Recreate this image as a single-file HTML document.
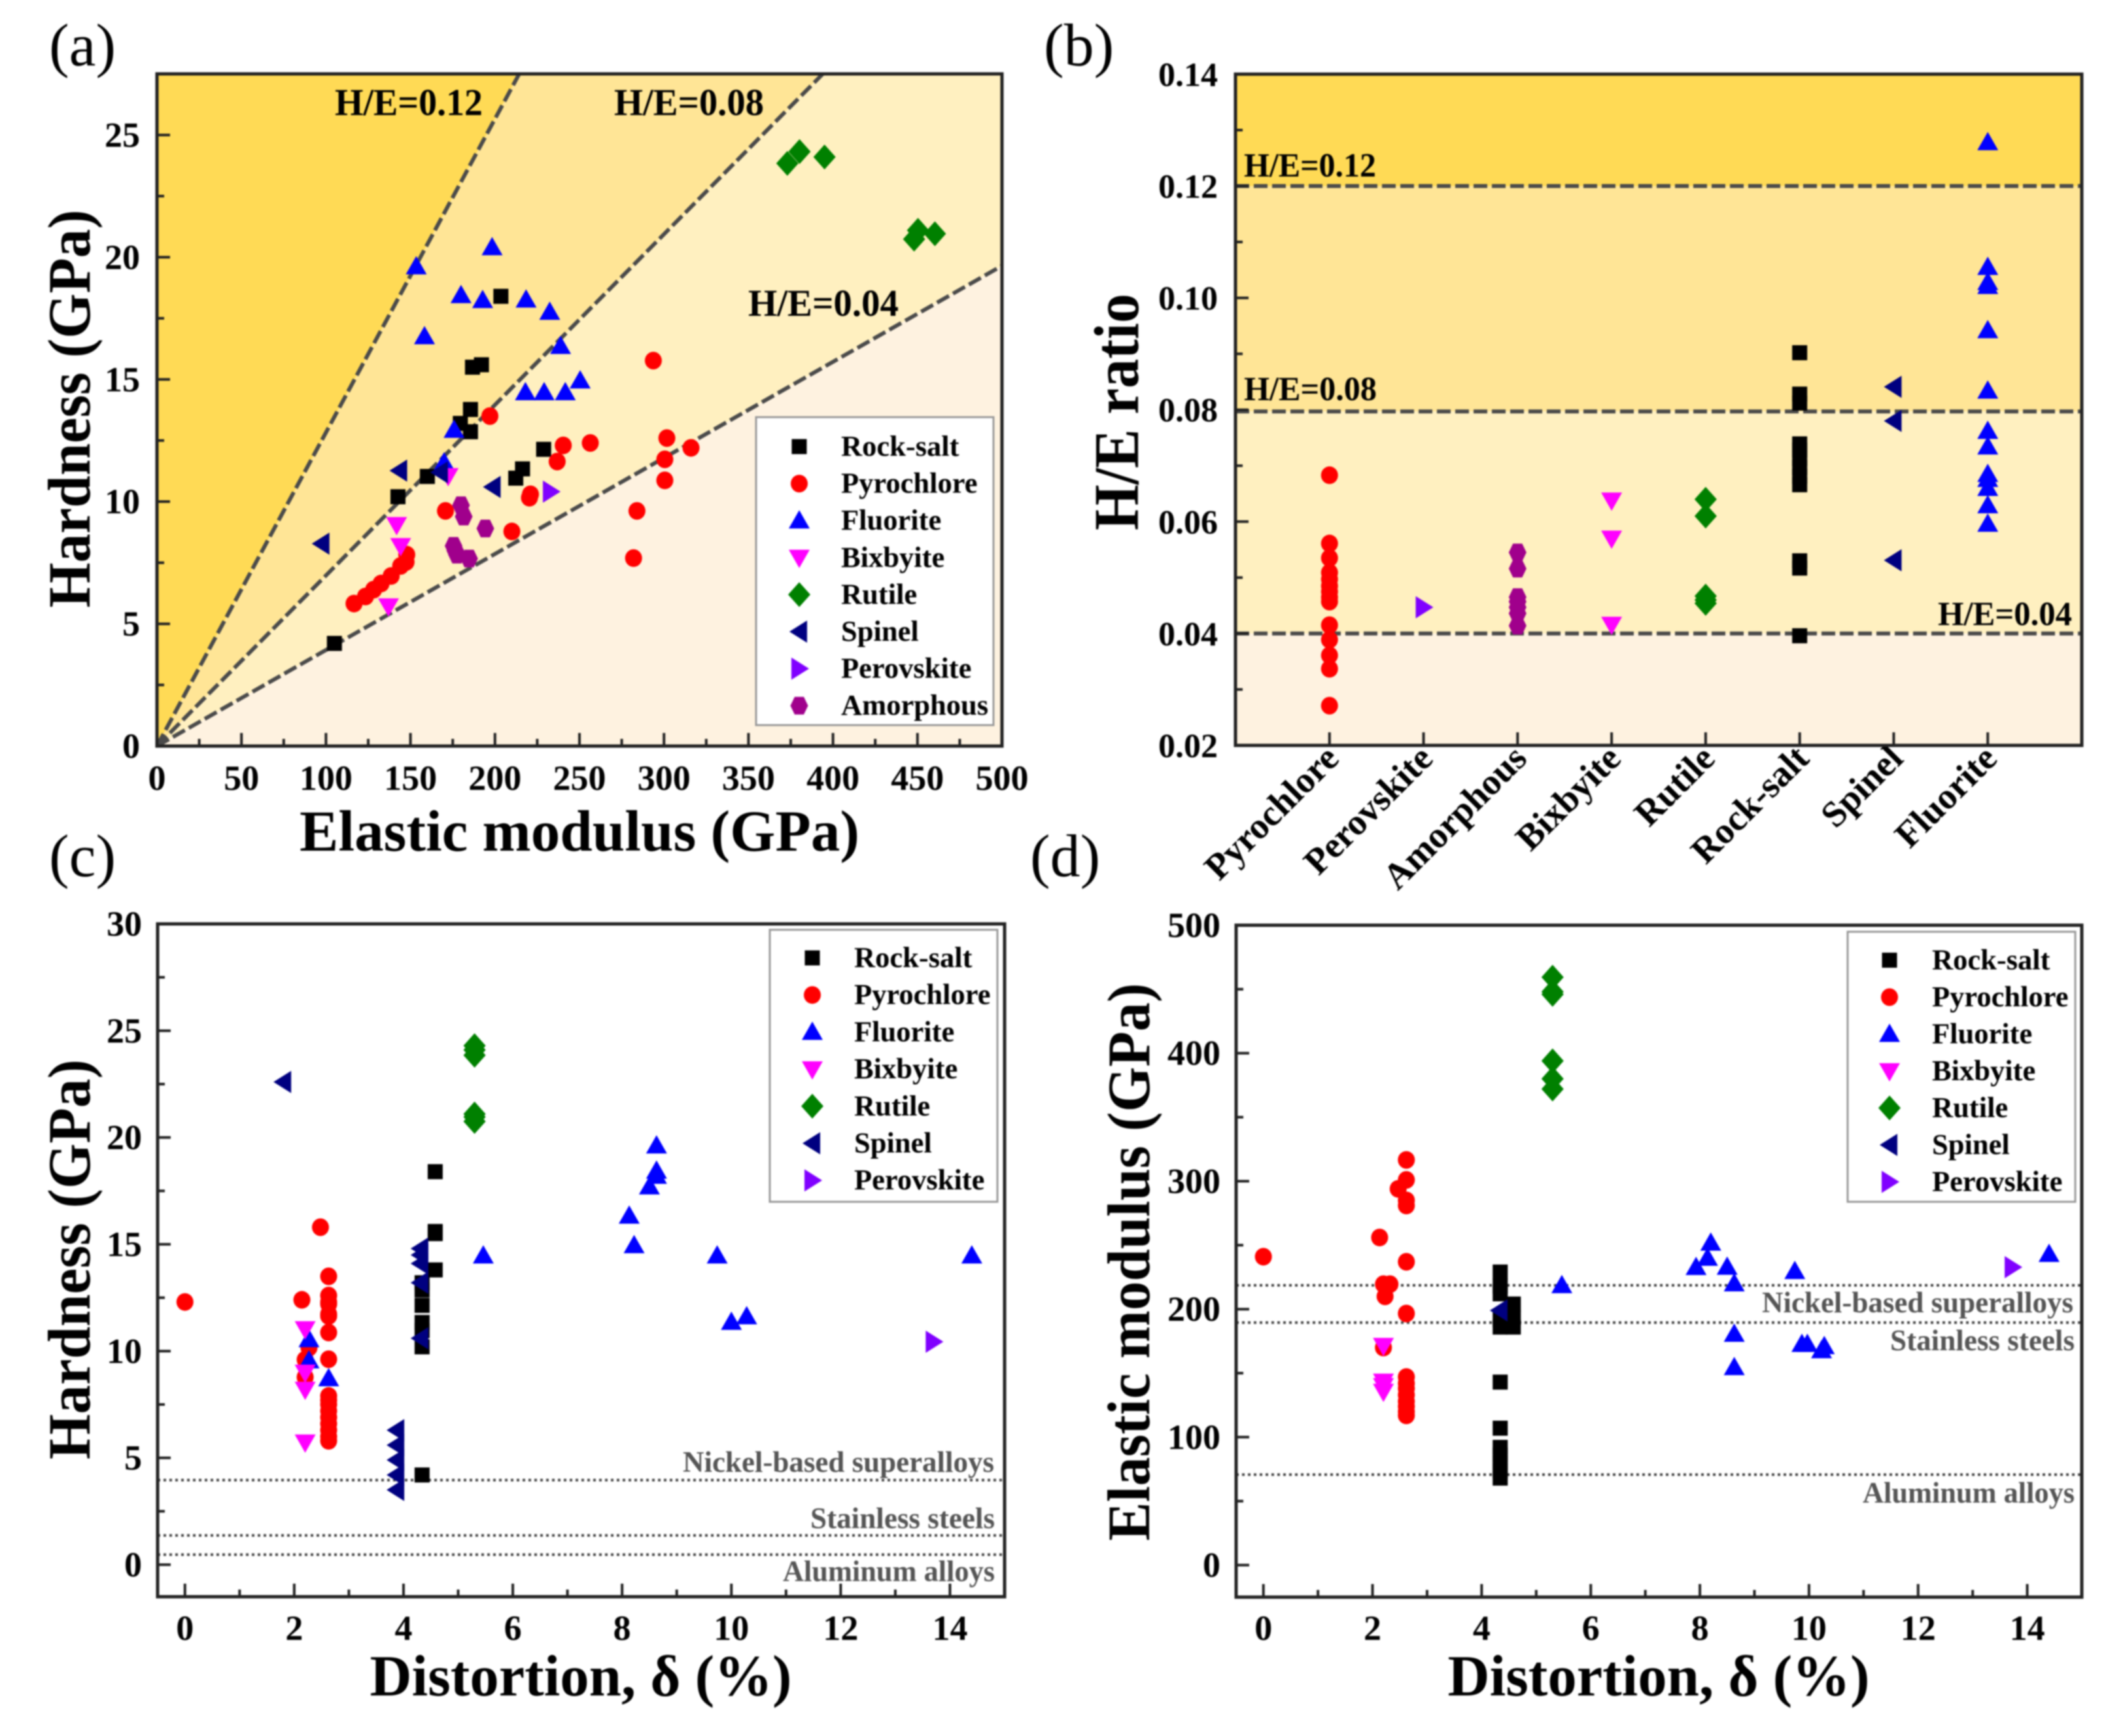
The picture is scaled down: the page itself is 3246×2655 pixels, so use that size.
<!DOCTYPE html>
<html lang="en">
<head>
<meta charset="utf-8">
<title>Hardness, modulus and distortion charts</title>
<style>
html,body{margin:0;padding:0;background:#fff;width:3246px;height:2655px;overflow:hidden}
svg{display:block;font-family:"Liberation Serif","DejaVu Serif",serif}
</style>
</head>
<body>
<svg id="figure" xmlns="http://www.w3.org/2000/svg" width="3246" height="2655" viewBox="0 0 3246 2655" style="filter:blur(1.1px)">
  <rect width="3246" height="2655" fill="#fff"/>
  <text x="75" y="100" font-size="92">(a)</text>
  <text x="1596" y="100" font-size="92">(b)</text>
  <text x="75" y="1340" font-size="92">(c)</text>
  <text x="1575" y="1340" font-size="92">(d)</text>
</svg>
<script>
/* ---------- Panel (a): elastic modulus (x) vs hardness (y) ---------- */
const aRockSaltE = [105,142.6,160,179.5,185.5,185.5,186.7,192,203.5,228.8,212.3,216.3];
const aRockSaltH = [4.2,10.2,11.03,13.2,13.77,12.86,15.5,15.6,18.4,12.14,10.96,11.34];
const aPyrochloreE = [116.6,123.4,128.2,132.6,138.6,144.2,147.4,147.8,170.7,197,210,220.4,221,236.8,240.4,256.4,293.7,284,282,300.5,300.5,301.7,316];
const aPyrochloreH = [5.83,6.12,6.4,6.65,6.96,7.37,7.53,7.83,9.62,13.5,8.78,10.16,10.3,11.64,12.3,12.4,15.77,9.62,7.69,10.87,11.73,12.6,12.2];
const aFluoriteE = [153.4,198.3,158.3,179.9,192.7,218.4,232.4,238.8,250.4,218,229.1,241.6,175.8,169.9];
const aFluoriteH = [19.62,20.4,16.76,18.44,18.24,18.26,17.76,16.36,14.95,14.47,14.47,14.47,12.93,11.6];
const aBixbyiteE = [172.3,141.8,144.2,137];
const aBixbyiteH = [11.05,9.05,8.19,5.72];
const aRutileE = [373,380.2,395,448,450.3,460.3];
const aRutileH = [23.84,24.32,24.1,20.74,21.1,20.96];
const aSpinelE = [97.4,143.4,167.5,198.7];
const aSpinelH = [8.28,11.27,11.2,10.6];
const aPerovskiteE = [233];
const aPerovskiteH = [10.41];
const aAmorphousE = [179.9,181.5,194.3,175.5,176.5,177.5,184.7];
const aAmorphousH = [9.85,9.39,8.9,8.19,8.0,7.83,7.67];
const aRatioLineSlopes = [0.1283,0.0698,0.0393];
const aXTicks = [0,50,100,150,200,250,300,350,400,450,500];
const aYTicks = [0,5,10,15,20,25];

/* ---------- Panel (b): H/E ratio by crystal structure ---------- */
const bCategories = ['Pyrochlore','Perovskite','Amorphous','Bixbyite','Rutile','Rock-salt','Spinel','Fluorite'];
const bPyrochlore = [.0683,.0561,.0535,.0509,.0497,.0485,.0475,.0465,.0457,.0415,.0389,.0361,.0337,.0271];
const bPerovskite = [.0447];
const bAmorphous = [.0545,.0516,.0465,.0457,.0447,.0436,.0414];
const bBixbyite = [.0638,.057,.0416];
const bRutile = [.064,.061,.0467,.046,.0454];
const bRockSalt = [.0902,.0828,.0812,.0739,.0728,.0713,.0697,.0681,.0666,.053,.0517,.0396];
const bSpinel = [.0841,.078,.0531];
const bFluorite = [.1278,.1055,.1028,.1021,.0942,.0834,.0762,.0734,.0685,.0676,.066,.0629,.0596];
const bRatioLevels = [0.12,0.0797,0.04];
const bYTicks = [0.02,0.04,0.06,0.08,0.10,0.12,0.14];

/* ---------- Panel (c): distortion (x) vs hardness (y) ---------- */
const cRockSaltD = [4.58,4.58,4.58,4.58,4.34,4.34,4.34,4.34,4.34,4.34,4.34];
const cRockSaltH = [18.4,15.6,15.5,13.8,13.2,12.86,12.14,11.34,10.96,10.2,4.2];
const cPyrochloreD = [0,2.14,2.48,2.63,2.63,2.63,2.63,2.63,2.63,2.63,2.63,2.27,2.2,2.2,2.63,2.63,2.63,2.63,2.63,2.63,2.63,2.63,2.63];
const cPyrochloreH = [12.3,12.4,15.8,13.5,12.6,12.3,12.2,11.73,11.64,10.87,9.62,10.16,9.6,8.78,7.9,7.7,7.5,7.2,6.9,6.6,6.3,6.0,5.8];
const cFluoriteD = [2.27,2.27,2.63,5.46,8.13,8.22,8.63,8.63,8.63,8.5,9.74,10,10.28,14.4];
const cFluoriteH = [10.55,9.56,8.72,14.47,16.33,14.95,19.62,18.44,18.2,17.7,14.47,11.36,11.62,14.47];
const cBixbyiteD = [2.2,2.2,2.2,2.2];
const cBixbyiteH = [11.03,9.0,8.2,5.73];
const cRutileD = [5.3,5.3,5.3,5.3,5.3,5.3];
const cRutileH = [24.3,24.1,23.85,21.1,20.96,20.75];
const cSpinelD = [1.8,3.87,3.87,3.87,3.87,3.87,4.31,4.31,4.31,4.31,4.31];
const cSpinelH = [22.6,6.3,5.6,4.9,4.2,3.5,14.8,14.5,14.1,13.2,10.6];
const cPerovskiteD = [13.7];
const cPerovskiteH = [10.44];
const cReferenceLevels = [3.96,1.37,0.47];
const cXTicks = [0,2,4,6,8,10,12,14];
const cYTicks = [0,5,10,15,20,25,30];

/* ---------- Panel (d): distortion (x) vs elastic modulus (y) ---------- */
const dRockSaltD = [4.34,4.34,4.34,4.34,4.34,4.34,4.34,4.34,4.34,4.34,4.34,4.34,4.58,4.58,4.58];
const dRockSaltE = [229,218,212,192,186,143,107,92,86,80,74,68,204,193,186];
const dPyrochloreD = [0,2.13,2.47,2.62,2.62,2.62,2.62,2.62,2.62,2.2,2.32,2.23,2.2,2.62,2.62,2.62,2.62,2.62,2.62,2.62,2.62];
const dPyrochloreE = [241,256,294,316.6,301,285,281,237,196.6,219.5,219.5,210,170,147,142,138,133,128,124,120,117];
const dFluoriteD = [5.47,7.93,8.14,8.2,8.5,8.63,8.63,8.63,9.74,9.87,9.97,10.23,10.28,14.4];
const dFluoriteE = [218.6,232.8,240,251.8,233,220,180.6,154.6,229.7,172.7,172.7,167.8,171,243];
const dBixbyiteD = [2.2,2.2,2.2,2.2];
const dBixbyiteE = [171.4,143.5,140,135.6];
const dRutileD = [5.3,5.3,5.3,5.3,5.3,5.3];
const dRutileE = [459.4,448,446,394,380,372];
const dSpinelD = [4.33];
const dSpinelE = [199];
const dPerovskiteD = [13.73];
const dPerovskiteE = [232.8];
const dReferenceLevels = [218.6,189.5,70.7];
const dXTicks = [0,2,4,6,8,10,12,14];
const dYTicks = [0,100,200,300,400,500];

/* ---------- Shared labels ---------- */
const referenceLabels = ['Nickel-based superalloys','Stainless steels','Aluminum alloys'];
const ratioLabels = ['H/E=0.12','H/E=0.08','H/E=0.04'];

const NS = 'http://www.w3.org/2000/svg';
const root = document.getElementById('figure');

const STYLE = {
  'Rock-salt': {shape:'square', color:'#000000'},
  'Pyrochlore': {shape:'circle', color:'#ff0000'},
  'Fluorite': {shape:'up', color:'#0000ff'},
  'Bixbyite': {shape:'down', color:'#ff00ff'},
  'Rutile': {shape:'diamond', color:'#008000'},
  'Spinel': {shape:'left', color:'#000080'},
  'Perovskite': {shape:'right', color:'#8000ff'},
  'Amorphous': {shape:'hex', color:'#a0008c'}
};

function slug(s){ return String(s).toLowerCase().replace(/[^a-z0-9]+/g,'-').replace(/^-|-$/g,''); }

function scales(p){
  return {
    x: v => p.l + (v - p.xMin) / (p.xMax - p.xMin) * (p.r - p.l),
    y: v => p.b - (v - p.yMin) / (p.yMax - p.yMin) * (p.b - p.t)
  };
}

function makeGroup(parent, name){
  const g = document.createElementNS(NS,'g');
  
  
  parent.appendChild(g);
  return g;
}

function drawText(parent, name, str, x, y, o){
  const t = document.createElementNS(NS,'text');
  
  
  t.setAttribute('x', x);
  t.setAttribute('y', y);
  t.setAttribute('font-size', o.size);
  t.setAttribute('font-weight', 'bold');
  t.setAttribute('fill', o.fill || '#000');
  t.setAttribute('text-anchor', o.anchor || 'start');
  if (o.rotate) t.setAttribute('transform', 'rotate(' + o.rotate + ' ' + x + ' ' + y + ')');
  if (o.length) {
    t.setAttribute('textLength', o.length);
    t.setAttribute('lengthAdjust', 'spacingAndGlyphs');
  }
  t.textContent = str;
  parent.appendChild(t);
  return t;
}

function drawLine(parent, name, x1, y1, x2, y2, stroke, width, dash){
  const l = document.createElementNS(NS,'line');
  
  
  l.setAttribute('x1', x1);
  l.setAttribute('y1', y1);
  l.setAttribute('x2', x2);
  l.setAttribute('y2', y2);
  l.setAttribute('stroke', stroke);
  l.setAttribute('stroke-width', width);
  if (dash) l.setAttribute('stroke-dasharray', dash);
  parent.appendChild(l);
  return l;
}

function drawRegion(parent, name, points, fill){
  const r = document.createElementNS(NS,'polygon');
  
  
  r.setAttribute('points', points.map(q => q[0] + ',' + q[1]).join(' '));
  r.setAttribute('fill', fill);
  parent.appendChild(r);
  return r;
}

function drawMarker(parent, name, series, px, py){
  const st = STYLE[series];
  let m;
  if (st.shape === 'circle') {
    m = document.createElementNS(NS,'ellipse');
    m.setAttribute('cx', px);
    m.setAttribute('cy', py);
    m.setAttribute('rx', 13);
    m.setAttribute('ry', 13.5);
  } else if (st.shape === 'square') {
    m = document.createElementNS(NS,'rect');
    m.setAttribute('x', px - 11.5);
    m.setAttribute('y', py - 11.5);
    m.setAttribute('width', 23);
    m.setAttribute('height', 23);
  } else {
    const shapes = {
      up: [[0,-16],[16,12],[-16,12]],
      down: [[-16,-12],[16,-12],[0,16]],
      left: [[-15,0],[12,-17],[12,17]],
      right: [[-12,-17],[-12,17],[15,0]],
      diamond: [[0,-19],[17,0],[0,19],[-17,0]],
      hex: [[-7,-13.5],[7,-13.5],[13.5,0],[7,13.5],[-7,13.5],[-13.5,0]]
    };
    m = document.createElementNS(NS,'polygon');
    m.setAttribute('points', shapes[st.shape].map(q => (px + q[0]) + ',' + (py + q[1])).join(' '));
  }
  
  
  m.setAttribute('fill', st.color);
  parent.appendChild(m);
  return m;
}

function drawSeries(parent, panelId, s, series, xs, ys){
  const g = makeGroup(parent, panelId + '-series-' + slug(series));
  xs.forEach((xv, i) => {
    drawMarker(g, panelId + '-' + slug(series) + '-point', series, s.x(xv), s.y(ys[i]));
  });
}

function drawFrame(parent, panelId, p){
  const f = document.createElementNS(NS,'rect');
  
  
  f.setAttribute('x', p.l);
  f.setAttribute('y', p.t);
  f.setAttribute('width', p.r - p.l);
  f.setAttribute('height', p.b - p.t);
  f.setAttribute('fill', 'none');
  f.setAttribute('stroke', '#222');
  f.setAttribute('stroke-width', 5);
  parent.appendChild(f);
}

function drawAxes(parent, panelId, p, s, o){
  const g = makeGroup(parent, panelId + '-axes');
  if (o.xTicks) {
    o.xTicks.forEach(v => {
      drawLine(g, panelId + '-x-tick', s.x(v), p.b, s.x(v), p.b - 20, '#222', 4);
      drawText(g, panelId + '-x-tick-label', String(v), s.x(v), o.xLabelY, {size:54, anchor:'middle'});
    });
    const step = o.xTicks[1] - o.xTicks[0];
    o.xTicks.forEach(v => {
      const mv = v + step / 2;
      if (mv < p.xMax) drawLine(g, panelId + '-x-minor-tick', s.x(mv), p.b, s.x(mv), p.b - 11, '#222', 4);
    });
  }
  o.yTicks.forEach(v => {
    const py = s.y(v);
    drawLine(g, panelId + '-y-tick', p.l, py, p.l + 20, py, '#222', 4);
    const label = o.yFormat ? o.yFormat(v) : String(v);
    drawText(g, panelId + '-y-tick-label', label, o.yLabelX, py + 18, {size: o.yLabelSize || 54, anchor:'end'});
  });
  const yStep = o.yTicks[1] - o.yTicks[0];
  o.yTicks.forEach(v => {
    const mv = v + yStep / 2;
    if (mv < p.yMax) drawLine(g, panelId + '-y-minor-tick', p.l, s.y(mv), p.l + 11, s.y(mv), '#222', 4);
  });
}

function drawLegend(parent, panelId, box, names){
  const g = makeGroup(parent, panelId + '-legend');
  const bg = document.createElementNS(NS,'rect');
  
  
  bg.setAttribute('x', box.l);
  bg.setAttribute('y', box.t);
  bg.setAttribute('width', box.r - box.l);
  bg.setAttribute('height', box.b - box.t);
  bg.setAttribute('fill', '#fff');
  bg.setAttribute('stroke', '#999');
  bg.setAttribute('stroke-width', 3);
  g.appendChild(bg);
  names.forEach((n, i) => {
    const cy = box.first + i * box.step;
    drawMarker(g, panelId + '-legend-marker-' + slug(n), n, box.mx, cy);
    drawText(g, panelId + '-legend-label-' + slug(n), n, box.tx, cy + 14, {size:44.5});
  });
}

/* ===== Panel (a) ===== */
(function(){
  const p = {l:240, r:1532, t:113, b:1141, xMin:0, xMax:500, yMin:0, yMax:27.5};
  const s = scales(p);
  const g = makeGroup(root, 'panel-a');
  const fills = ['#ffda55','#ffe596','#fff0c0','#fef2e0'];
  const ox = s.x(0), oy = s.y(0);
  const edge = m => {
    const xAtTop = p.yMax / m;
    return xAtTop <= p.xMax ? [s.x(xAtTop), p.t] : [p.r, s.y(m * p.xMax)];
  };
  const e = aRatioLineSlopes.map(edge);
  drawRegion(g, 'region-above-h-e-0-12', [[ox,oy],[p.l,p.t],e[0]], fills[0]);
  drawRegion(g, 'region-h-e-0-08-to-0-12', [[ox,oy],e[0],e[1]], fills[1]);
  drawRegion(g, 'region-h-e-0-04-to-0-08', [[ox,oy],e[1],[p.r,p.t],e[2]], fills[2]);
  drawRegion(g, 'region-below-h-e-0-04', [[ox,oy],e[2],[p.r,p.b]], fills[3]);
  aRatioLineSlopes.forEach((m, i) => {
    drawLine(g, 'ratio-line-' + slug(ratioLabels[i]), ox, oy, e[i][0], e[i][1], '#4a4a4a', 6, '21 7');
  });
  drawAxes(g, 'a', p, s, {xTicks:aXTicks, yTicks:aYTicks, xLabelY:1208, yLabelX:214});
  drawText(g, 'ratio-label-0-12', ratioLabels[0], 512, 176, {size:58, length:226});
  drawText(g, 'ratio-label-0-08', ratioLabels[1], 939, 176, {size:58, length:229});
  drawText(g, 'ratio-label-0-04', ratioLabels[2], 1144, 483, {size:58, length:230});
  drawSeries(g, 'a', s, 'Rock-salt', aRockSaltE, aRockSaltH);
  drawSeries(g, 'a', s, 'Pyrochlore', aPyrochloreE, aPyrochloreH);
  drawSeries(g, 'a', s, 'Fluorite', aFluoriteE, aFluoriteH);
  drawSeries(g, 'a', s, 'Bixbyite', aBixbyiteE, aBixbyiteH);
  drawSeries(g, 'a', s, 'Rutile', aRutileE, aRutileH);
  drawSeries(g, 'a', s, 'Spinel', aSpinelE, aSpinelH);
  drawSeries(g, 'a', s, 'Perovskite', aPerovskiteE, aPerovskiteH);
  drawSeries(g, 'a', s, 'Amorphous', aAmorphousE, aAmorphousH);
  drawLegend(g, 'a', {l:1156, r:1519, t:638, b:1109, mx:1222, tx:1286, first:683, step:56.6},
    ['Rock-salt','Pyrochlore','Fluorite','Bixbyite','Rutile','Spinel','Perovskite','Amorphous']);
  drawFrame(g, 'a', p);
  drawText(g, 'a-x-axis-title', 'Elastic modulus (GPa)', 886, 1301, {size:89, anchor:'middle', length:856});
  drawText(g, 'a-y-axis-title', 'Hardness (GPa)', 137, 625, {size:92, anchor:'middle', rotate:-90, length:609});
})();

/* ===== Panel (b) ===== */
(function(){
  const p = {l:1889, r:3183, t:113.4, b:1140, xMin:0, xMax:9, yMin:0.02, yMax:0.14};
  const s = scales(p);
  const g = makeGroup(root, 'panel-b');
  const fills = ['#ffda55','#ffe596','#fff0c0','#fef2e0'];
  const ys = bRatioLevels.map(s.y);
  const band = (name, t, b, fill) => drawRegion(g, name, [[p.l,t],[p.r,t],[p.r,b],[p.l,b]], fill);
  band('band-above-h-e-0-12', p.t, ys[0], fills[0]);
  band('band-h-e-0-08-to-0-12', ys[0], ys[1], fills[1]);
  band('band-h-e-0-04-to-0-08', ys[1], ys[2], fills[2]);
  band('band-below-h-e-0-04', ys[2], p.b, fills[3]);
  ys.forEach((y, i) => {
    drawLine(g, 'ratio-line-' + slug(ratioLabels[i]), p.l, y, p.r, y, '#4a4a4a', 6, '21 7');
  });
  drawAxes(g, 'b', p, s, {yTicks:bYTicks, yLabelX:1862, yLabelSize:52, yFormat:v => v.toFixed(2)});
  bCategories.forEach((name, i) => {
    const px = s.x(i + 1);
    drawLine(g, 'b-category-tick', px, p.b, px, p.b - 20, '#222', 4);
    drawText(g, 'b-category-label-' + slug(name), name, px + 17, 1163, {size:56, anchor:'end', rotate:-45});
  });
  drawText(g, 'ratio-label-0-12', ratioLabels[0], 1902, 270, {size:52, length:202});
  drawText(g, 'ratio-label-0-08', ratioLabels[1], 1902, 612, {size:52, length:203});
  drawText(g, 'ratio-label-0-04', ratioLabels[2], 2963, 956, {size:52, length:205});
  const plot = (series, pos, vals) => drawSeries(g, 'b', s, series, vals.map(() => pos), vals);
  plot('Pyrochlore', bCategories.indexOf('Pyrochlore') + 1, bPyrochlore);
  plot('Perovskite', bCategories.indexOf('Perovskite') + 1, bPerovskite);
  plot('Amorphous', bCategories.indexOf('Amorphous') + 1, bAmorphous);
  plot('Bixbyite', bCategories.indexOf('Bixbyite') + 1, bBixbyite);
  plot('Rutile', bCategories.indexOf('Rutile') + 1, bRutile);
  plot('Rock-salt', bCategories.indexOf('Rock-salt') + 1, bRockSalt);
  plot('Spinel', bCategories.indexOf('Spinel') + 1, bSpinel);
  plot('Fluorite', bCategories.indexOf('Fluorite') + 1, bFluorite);
  drawFrame(g, 'b', p);
  drawText(g, 'b-y-axis-title', 'H/E ratio', 1740, 630, {size:97, anchor:'middle', rotate:-90, length:362});
})();

/* ===== Panel (c) ===== */
(function(){
  const p = {l:241, r:1536, t:1413, b:2442, xMin:-0.5, xMax:15, yMin:-1.5, yMax:30};
  const s = scales(p);
  const g = makeGroup(root, 'panel-c');
  drawAxes(g, 'c', p, s, {xTicks:cXTicks, yTicks:cYTicks, xLabelY:2508, yLabelX:217});
  cReferenceLevels.forEach((v, i) => {
    drawLine(g, 'reference-line-' + slug(referenceLabels[i]), p.l, s.y(v), p.r, s.y(v), '#444', 4, '4 5');
  });
  drawText(g, 'reference-label-nickel', referenceLabels[0], 1520, 2251, {size:45, anchor:'end', fill:'#555', length:476});
  drawText(g, 'reference-label-stainless', referenceLabels[1], 1521, 2337, {size:45, anchor:'end', fill:'#555', length:282});
  drawText(g, 'reference-label-aluminum', referenceLabels[2], 1521, 2418, {size:45, anchor:'end', fill:'#555', length:324});
  drawSeries(g, 'c', s, 'Rock-salt', cRockSaltD, cRockSaltH);
  drawSeries(g, 'c', s, 'Pyrochlore', cPyrochloreD, cPyrochloreH);
  drawSeries(g, 'c', s, 'Fluorite', cFluoriteD, cFluoriteH);
  drawSeries(g, 'c', s, 'Bixbyite', cBixbyiteD, cBixbyiteH);
  drawSeries(g, 'c', s, 'Rutile', cRutileD, cRutileH);
  drawSeries(g, 'c', s, 'Spinel', cSpinelD, cSpinelH);
  drawSeries(g, 'c', s, 'Perovskite', cPerovskiteD, cPerovskiteH);
  drawLegend(g, 'c', {l:1177, r:1525, t:1422, b:1838, mx:1242, tx:1306, first:1465, step:56.7},
    ['Rock-salt','Pyrochlore','Fluorite','Bixbyite','Rutile','Spinel','Perovskite']);
  drawFrame(g, 'c', p);
  drawText(g, 'c-x-axis-title', 'Distortion, δ (%)', 888, 2593, {size:89, anchor:'middle', length:645});
  drawText(g, 'c-y-axis-title', 'Hardness (GPa)', 137, 1926, {size:92, anchor:'middle', rotate:-90, length:612});
})();

/* ===== Panel (d) ===== */
(function(){
  const p = {l:1890, r:3183, t:1415, b:2442.6, xMin:-0.5, xMax:15, yMin:-25, yMax:500};
  const s = scales(p);
  const g = makeGroup(root, 'panel-d');
  drawAxes(g, 'd', p, s, {xTicks:dXTicks, yTicks:dYTicks, xLabelY:2508, yLabelX:1866});
  dReferenceLevels.forEach((v, i) => {
    drawLine(g, 'reference-line-' + slug(referenceLabels[i]), p.l, s.y(v), p.r, s.y(v), '#444', 4, '4 5');
  });
  drawText(g, 'reference-label-nickel', referenceLabels[0], 3170, 2007, {size:45, anchor:'end', fill:'#555', length:476});
  drawText(g, 'reference-label-stainless', referenceLabels[1], 3172, 2065, {size:45, anchor:'end', fill:'#555', length:282});
  drawText(g, 'reference-label-aluminum', referenceLabels[2], 3172, 2298, {size:45, anchor:'end', fill:'#555', length:324});
  drawSeries(g, 'd', s, 'Rock-salt', dRockSaltD, dRockSaltE);
  drawSeries(g, 'd', s, 'Pyrochlore', dPyrochloreD, dPyrochloreE);
  drawSeries(g, 'd', s, 'Fluorite', dFluoriteD, dFluoriteE);
  drawSeries(g, 'd', s, 'Bixbyite', dBixbyiteD, dBixbyiteE);
  drawSeries(g, 'd', s, 'Rutile', dRutileD, dRutileE);
  drawSeries(g, 'd', s, 'Spinel', dSpinelD, dSpinelE);
  drawSeries(g, 'd', s, 'Perovskite', dPerovskiteD, dPerovskiteE);
  drawLegend(g, 'd', {l:2825, r:3173, t:1425, b:1838, mx:2889, tx:2954, first:1468.5, step:56.5},
    ['Rock-salt','Pyrochlore','Fluorite','Bixbyite','Rutile','Spinel','Perovskite']);
  drawFrame(g, 'd', p);
  drawText(g, 'd-x-axis-title', 'Distortion, δ (%)', 2536, 2593, {size:89, anchor:'middle', length:645});
  drawText(g, 'd-y-axis-title', 'Elastic modulus (GPa)', 1757, 1930, {size:92, anchor:'middle', rotate:-90, length:853});
})();
</script>
</body>
</html>
